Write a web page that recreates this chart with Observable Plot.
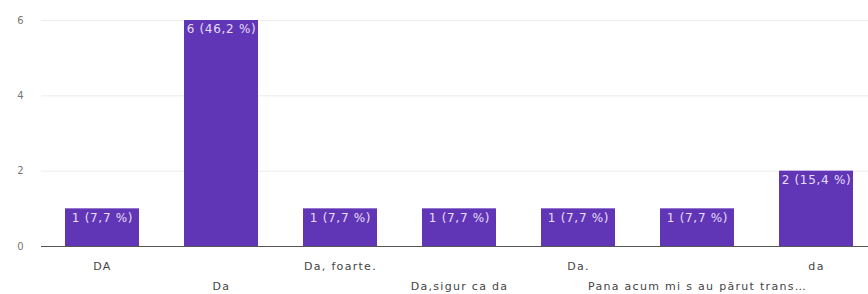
<!DOCTYPE html>
<html>
<head>
<meta charset="utf-8">
<script src="https://cdn.jsdelivr.net/npm/d3@7"></script>
<script src="https://cdn.jsdelivr.net/npm/@observablehq/plot@0.6"></script>
<style>
  html, body { margin: 0; padding: 0; background: #fff; overflow: hidden; }
  svg { font-family: "DejaVu Sans", sans-serif; }
</style>
</head>
<body>
<div id="chart"></div>
<script>
const categories = ["DA", "Da", "Da, foarte.", "Da,sigur ca da", "Da.", "Pana acum mi s au părut trans…", "da"];
const counts = [1, 6, 1, 1, 1, 1, 2];
const valueLabels = ["1 (7,7 %)", "6 (46,2 %)", "1 (7,7 %)", "1 (7,7 %)", "1 (7,7 %)", "1 (7,7 %)", "2 (15,4 %)"];
const yTicks = [0, 2, 4, 6];

const data = categories.map((c, i) => ({cat: c, n: counts[i], label: valueLabels[i], row: i % 2}));

const chart = Plot.plot({
  width: 868,
  height: 294,
  marginTop: 20,
  marginBottom: 48,
  marginLeft: 41,
  marginRight: 0,
  style: {fontFamily: "'DejaVu Sans', sans-serif", fontSize: "10px", background: "#fff", overflow: "hidden"},
  x: {domain: categories, range: [41, 876], paddingInner: 0.38, paddingOuter: 0.19, axis: null},
  y: {domain: [0, 6], ticks: yTicks, grid: false, label: null, axis: null},
  marks: [
    Plot.ruleY(yTicks.filter(t => t > 0), {stroke: "#ececec", strokeWidth: 1}),
    Plot.barY(data, {x: "cat", y: "n", fill: "#6035b6"}),
    Plot.ruleY([0], {stroke: "#555", strokeWidth: 1.2}),
    Plot.axisY({ticks: yTicks, tickSize: 0, tickPadding: 18, tickFormat: "d", fill: "#777", fontSize: 10, label: null}),
    Plot.text(data, {x: "cat", y: "n", text: "label", dy: 9, fill: "#e6defa", fontSize: 12}),
    Plot.text(data.filter(d => d.row === 0), {x: "cat", y: 0, text: "cat", dy: 20, fill: "#444", fontSize: 11}),
    Plot.text(data.filter(d => d.row === 1), {x: "cat", y: 0, text: "cat", dy: 40, fill: "#444", fontSize: 11})
  ]
});
d3.select(chart).selectAll("text").each(function() {
  const t = this.textContent;
  if (categories.includes(t)) this.style.letterSpacing = "1.3px";
  else if (valueLabels.includes(t)) this.style.letterSpacing = "0.7px";
});
document.getElementById("chart").appendChild(chart);
</script>
</body>
</html>
